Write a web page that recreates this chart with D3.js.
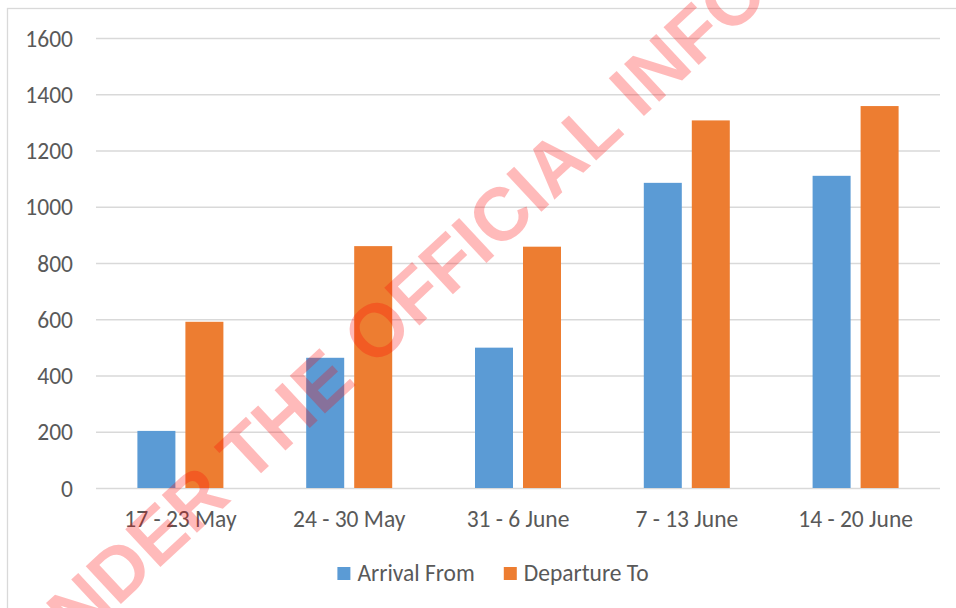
<!DOCTYPE html>
<html>
<head>
<meta charset="utf-8">
<script src="https://cdn.jsdelivr.net/npm/d3@7"></script>
<style>
  html, body { margin: 0; padding: 0; background: #ffffff; }
  svg { display: block; }
  .lbl { font-family: Carlito, Lato, "Open Sans", sans-serif; fill: #595959; }
</style>
</head>
<body>
<svg id="chart" width="956" height="608"></svg>
<script>
// Weekly passenger movements
const categories = ["17 - 23 May", "24 - 30 May", "31 - 6 June", "7 - 13 June", "14 - 20 June"];
const seriesNames = ["Arrival From", "Departure To"];
const arrivalFrom = [203, 463, 499, 1085, 1110];
const departureTo = [591, 860, 858, 1307, 1358];
const yTickValues = [0, 200, 400, 600, 800, 1000, 1200, 1400, 1600];
const seriesColors = ["#5b9bd5", "#ed7d31"];
const stampText = "RELEASED UNDER THE OFFICIAL INFORMATION ACT";

const svg = d3.select("#chart");
const W = 956, H = 608;
const plot = { left: 96, right: 940, top: 38, bottom: 488 };
const fontSize = 23.5;

// chart frame
svg.append("rect")
  .attr("x", 7.5).attr("y", 8.5)
  .attr("width", W + 20).attr("height", H + 20)
  .attr("fill", "#ffffff")
  .attr("stroke", "#d9d9d9").attr("stroke-width", 1.3);

const x0 = d3.scaleBand().domain(categories).range([plot.left, plot.right]).paddingInner(0).paddingOuter(0);
const x1 = d3.scaleBand().domain(seriesNames).range([0, x0.bandwidth()])
  .paddingInner(10 / 48).paddingOuter(0.8625);
const y = d3.scaleLinear().domain([0, 1600]).range([plot.bottom, plot.top]);
const color = d3.scaleOrdinal().domain(seriesNames).range(seriesColors);

// horizontal gridlines + value labels
const yAxis = d3.axisLeft(y).tickValues(yTickValues)
  .tickSize(-(plot.right - plot.left)).tickPadding(23).tickFormat(d3.format("d"));
const gy = svg.append("g").attr("transform", `translate(${plot.left},0)`).call(yAxis);
gy.select(".domain").remove();
gy.selectAll(".tick line").attr("stroke", "#d9d9d9").attr("stroke-width", 1.5);
gy.selectAll(".tick text").attr("class", "lbl").attr("font-size", fontSize)
  .attr("fill", "#595959").attr("dy", "0.34em");

// bars
const rows = categories.map((c, i) => ({ cat: c, values: [
  { key: seriesNames[0], value: arrivalFrom[i] },
  { key: seriesNames[1], value: departureTo[i] }
]}));

svg.append("g").selectAll("g").data(rows).join("g")
  .attr("transform", d => `translate(${x0(d.cat)},0)`)
  .selectAll("rect").data(d => d.values).join("rect")
  .attr("x", d => x1(d.key))
  .attr("width", x1.bandwidth())
  .attr("y", d => y(d.value))
  .attr("height", d => y(0) - y(d.value))
  .attr("fill", d => color(d.key));

// category labels
const xAxis = d3.axisBottom(x0).tickSize(0).tickPadding(22);
const gx = svg.append("g").attr("transform", `translate(0,${plot.bottom})`).call(xAxis);
gx.select(".domain").remove();
gx.selectAll(".tick text").attr("class", "lbl").attr("font-size", fontSize).attr("fill", "#595959");

// legend
const legend = svg.append("g").attr("class", "legend");
const items = legend.selectAll("g").data(seriesNames).join("g");
items.append("rect").attr("width", 13).attr("height", 13).attr("y", -13)
  .attr("fill", d => color(d));
items.append("text").attr("class", "lbl").attr("font-size", fontSize)
  .attr("x", 20).attr("y", 0).attr("dy", "0.05em").text(d => d);
let cursor = 0;
const gap = 29;
items.each(function () {
  const g = d3.select(this);
  g.attr("transform", `translate(${cursor},0)`);
  cursor += 20 + g.select("text").node().getComputedTextLength() + gap;
});
const legendWidth = cursor - gap;
legend.attr("transform", `translate(${(W - legendWidth) / 2 + 15},${580})`);

// diagonal release stamp
svg.append("text")
  .attr("transform", "translate(-276,974) rotate(-43)")
  .attr("font-family", "'Liberation Sans', Arial, sans-serif")
  .attr("font-weight", "bold")
  .attr("font-size", 75)
  .attr("fill", "#ff0000")
  .attr("fill-opacity", 0.27)
  .text(stampText);
</script>
</body>
</html>
